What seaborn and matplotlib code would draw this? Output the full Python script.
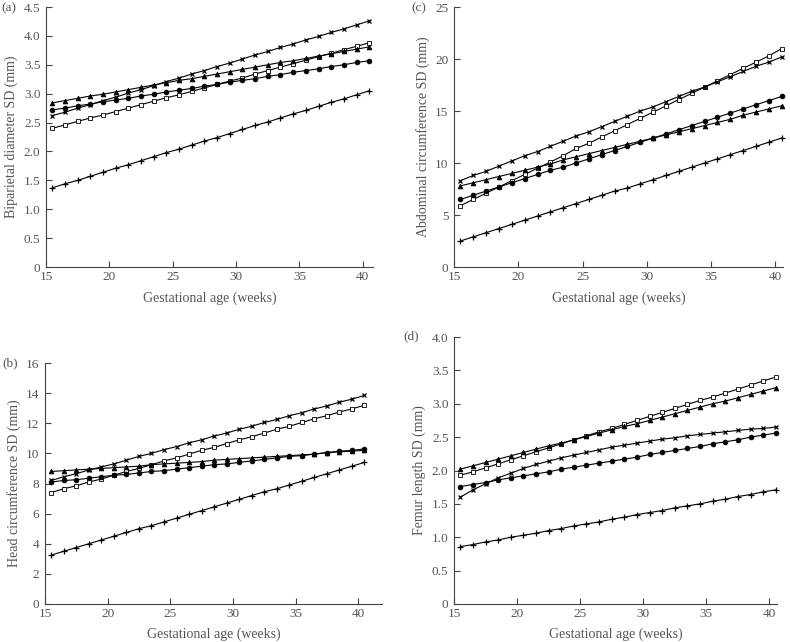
import numpy as np
import pandas as pd
import matplotlib
matplotlib.use("Agg")
import matplotlib.pyplot as plt
import seaborn as sns
from matplotlib.ticker import FuncFormatter

sns.set_style("white")
plt.rcParams['font.family'] = ['Liberation Serif', 'DejaVu Serif']

weeks = [15.5, 16.5, 17.5, 18.5, 19.5, 20.5, 21.5, 22.5, 23.5, 24.5, 25.5, 26.5, 27.5,
         28.5, 29.5, 30.5, 31.5, 32.5, 33.5, 34.5, 35.5, 36.5, 37.5, 38.5, 39.5, 40.5]

# (a) Biparietal diameter SD
bpd_cross = [2.62, 2.68, 2.75, 2.81, 2.88, 2.94, 3.01, 3.07, 3.14, 3.21, 3.27, 3.34, 3.40,
             3.47, 3.53, 3.60, 3.67, 3.73, 3.80, 3.86, 3.93, 3.99, 4.06, 4.12, 4.19, 4.26]
bpd_tri = [2.84, 2.88, 2.92, 2.96, 2.99, 3.03, 3.07, 3.11, 3.15, 3.19, 3.23, 3.26, 3.30,
           3.34, 3.38, 3.42, 3.46, 3.50, 3.54, 3.57, 3.61, 3.65, 3.69, 3.73, 3.77, 3.81]
bpd_dot = [2.72, 2.75, 2.79, 2.82, 2.86, 2.89, 2.92, 2.96, 2.99, 3.03, 3.06, 3.09, 3.13,
           3.16, 3.20, 3.23, 3.26, 3.30, 3.33, 3.37, 3.40, 3.43, 3.47, 3.50, 3.54, 3.57]
bpd_sq = [2.40, 2.46, 2.52, 2.58, 2.63, 2.69, 2.75, 2.81, 2.87, 2.93, 2.98, 3.04, 3.10,
          3.16, 3.22, 3.27, 3.34, 3.40, 3.46, 3.52, 3.58, 3.64, 3.70, 3.76, 3.82, 3.88]
bpd_plus = [1.37, 1.44, 1.50, 1.57, 1.64, 1.71, 1.77, 1.84, 1.91, 1.98, 2.04, 2.11, 2.18,
            2.24, 2.31, 2.38, 2.45, 2.51, 2.58, 2.65, 2.71, 2.78, 2.85, 2.91, 2.98, 3.05]

# (b) Head circumference SD
hc_cross = [8.2, 8.45, 8.65, 8.9, 9.1, 9.3, 9.55, 9.8, 10.0, 10.25, 10.45, 10.7, 10.9,
            11.15, 11.35, 11.6, 11.8, 12.05, 12.25, 12.5, 12.7, 12.95, 13.15, 13.4, 13.6, 13.85]
hc_tri = [8.8, 8.85, 8.9, 8.95, 9.0, 9.05, 9.1, 9.15, 9.25, 9.3, 9.35, 9.4, 9.45,
          9.55, 9.6, 9.65, 9.7, 9.75, 9.8, 9.85, 9.9, 9.95, 10.05, 10.1, 10.15, 10.2]
hc_dot = [8.1, 8.2, 8.25, 8.35, 8.45, 8.55, 8.6, 8.7, 8.8, 8.85, 8.95, 9.05, 9.15,
          9.25, 9.3, 9.4, 9.5, 9.6, 9.7, 9.8, 9.85, 9.95, 10.05, 10.15, 10.2, 10.3]
hc_sq = [7.4, 7.65, 7.85, 8.1, 8.3, 8.55, 8.8, 9.0, 9.25, 9.5, 9.7, 9.95, 10.2,
         10.4, 10.65, 10.9, 11.1, 11.35, 11.6, 11.8, 12.05, 12.3, 12.5, 12.75, 12.95, 13.2]
hc_plus = [3.25, 3.5, 3.75, 4.0, 4.25, 4.5, 4.75, 5.0, 5.2, 5.45, 5.7, 5.95, 6.2,
           6.45, 6.7, 6.95, 7.2, 7.45, 7.65, 7.9, 8.15, 8.4, 8.65, 8.9, 9.15, 9.4]

# (c) Abdominal circumference SD
ac_cross = [8.3, 8.8, 9.2, 9.7, 10.2, 10.7, 11.1, 11.6, 12.1, 12.6, 13.0, 13.5, 14.0,
            14.5, 15.0, 15.4, 15.9, 16.4, 16.9, 17.3, 17.8, 18.3, 18.8, 19.3, 19.7, 20.2]
ac_sq = [5.9, 6.5, 7.1, 7.7, 8.3, 8.9, 9.5, 10.1, 10.7, 11.4, 11.9, 12.5, 13.1,
         13.7, 14.3, 14.9, 15.5, 16.1, 16.7, 17.3, 17.9, 18.5, 19.1, 19.7, 20.3, 21.0]
ac_tri = [7.8, 8.1, 8.4, 8.7, 9.0, 9.3, 9.6, 9.9, 10.3, 10.6, 10.9, 11.2, 11.5,
          11.8, 12.1, 12.4, 12.7, 13.0, 13.3, 13.6, 13.9, 14.2, 14.6, 14.9, 15.2, 15.5]
ac_dot = [6.5, 6.9, 7.3, 7.7, 8.1, 8.5, 8.9, 9.3, 9.6, 10.0, 10.4, 10.8, 11.2,
          11.6, 12.0, 12.4, 12.8, 13.2, 13.6, 14.0, 14.4, 14.8, 15.2, 15.6, 16.0, 16.4]
ac_plus = [2.5, 2.9, 3.3, 3.7, 4.1, 4.5, 4.9, 5.3, 5.7, 6.1, 6.5, 6.9, 7.3,
           7.6, 8.0, 8.4, 8.8, 9.2, 9.6, 10.0, 10.4, 10.8, 11.2, 11.6, 12.0, 12.4]

# (d) Femur length SD
fl_sq = [1.93, 1.98, 2.04, 2.10, 2.16, 2.22, 2.28, 2.34, 2.40, 2.46, 2.52, 2.58, 2.63,
         2.69, 2.75, 2.81, 2.87, 2.93, 2.99, 3.05, 3.10, 3.16, 3.22, 3.28, 3.34, 3.40]
fl_tri = [2.02, 2.07, 2.12, 2.17, 2.22, 2.27, 2.32, 2.37, 2.41, 2.46, 2.51, 2.56, 2.61,
          2.66, 2.70, 2.75, 2.80, 2.85, 2.90, 2.95, 3.00, 3.04, 3.09, 3.14, 3.19, 3.24]
fl_cross = [1.60, 1.71, 1.80, 1.89, 1.96, 2.03, 2.09, 2.14, 2.19, 2.23, 2.27, 2.31, 2.35,
            2.38, 2.41, 2.44, 2.47, 2.49, 2.52, 2.54, 2.56, 2.58, 2.60, 2.62, 2.63, 2.65]
fl_dot = [1.76, 1.79, 1.82, 1.86, 1.89, 1.92, 1.95, 1.98, 2.02, 2.05, 2.08, 2.11, 2.14,
          2.17, 2.20, 2.24, 2.27, 2.30, 2.33, 2.36, 2.40, 2.43, 2.46, 2.50, 2.53, 2.56]
fl_plus = [0.86, 0.89, 0.93, 0.96, 1.00, 1.03, 1.06, 1.10, 1.13, 1.17, 1.20, 1.23, 1.27,
           1.30, 1.34, 1.37, 1.40, 1.44, 1.47, 1.50, 1.54, 1.57, 1.61, 1.64, 1.68, 1.71]

marker_styles = {
    'cross': dict(marker='x', markersize=3.4, mfc='black', mec='black', mew=0.9),
    'tri': dict(marker='^', markersize=3.4, mfc='black', mec='black', mew=0.6),
    'dot': dict(marker='o', markersize=3.4, mfc='black', mec='black', mew=0.6),
    'sq': dict(marker='s', markersize=3.2, mfc='white', mec='black', mew=0.6),
    'plus': dict(marker='+', markersize=4.2, mfc='black', mec='black', mew=0.9),
}

W, H = 790, 642

def rect(left, right, top, bottom):
    return [left / W, 1 - bottom / H, (right - left) / W, (bottom - top) / H]

panels = [
    ('(a)', (1, 8), 'Biparietal diameter SD (mm)', rect(46, 373, 7, 267), (0, 4.5), np.arange(0, 4.51, 0.5), 40.8, True,
     {'cross': bpd_cross, 'tri': bpd_tri, 'dot': bpd_dot, 'sq': bpd_sq, 'plus': bpd_plus}),
    ('(c)', (411, 8), 'Abdominal circumference SD (mm)', rect(454, 783, 7, 267), (0, 25), np.arange(0, 26, 5), 40.6, False,
     {'cross': ac_cross, 'tri': ac_tri, 'dot': ac_dot, 'sq': ac_sq, 'plus': ac_plus}),
    ('(b)', (2, 363), 'Head circumference SD (mm)', rect(45, 382, 363, 604), (0, 16), np.arange(0, 17, 2), 41.9, False,
     {'cross': hc_cross, 'tri': hc_tri, 'dot': hc_dot, 'sq': hc_sq, 'plus': hc_plus}),
    ('(d)', (403, 336), 'Femur length SD (mm)', rect(454, 777, 337, 604), (0, 4.0), np.arange(0, 4.01, 0.5), 40.6, True,
     {'cross': fl_cross, 'tri': fl_tri, 'dot': fl_dot, 'sq': fl_sq, 'plus': fl_plus}),
]

fig = plt.figure(figsize=(7.9, 6.42), dpi=100)
grey = '#555555'

for i, (tag, tagpos, ylabel, r, ylim, yticks, xmax, dec, series) in enumerate(panels):
    ax = fig.add_axes(r)
    for key in ['plus', 'sq', 'dot', 'tri', 'cross']:
        df = pd.DataFrame({'week': weeks, 'sd': series[key]})
        sns.lineplot(data=df, x='week', y='sd', ax=ax, color='black', linewidth=0.8,
                     clip_on=False, **marker_styles[key])
    ax.set_xlim(15, xmax)
    ax.set_ylim(*ylim)
    ax.set_xticks([15, 20, 25, 30, 35, 40])
    ax.set_yticks(yticks)
    if dec:
        ax.yaxis.set_major_formatter(FuncFormatter(lambda v, p: '0' if abs(v) < 1e-9 else f'{v:.1f}'))
    else:
        ax.yaxis.set_major_formatter(FuncFormatter(lambda v, p: f'{v:.0f}'))
    for s in ['top', 'right']:
        ax.spines[s].set_visible(False)
    for s in ['left', 'bottom']:
        ax.spines[s].set_color('#444444')
        ax.spines[s].set_linewidth(0.8)
    ax.tick_params(axis='both', direction='in', length=4, width=0.8, color='#444444',
                   labelsize=9.5, labelcolor=grey, left=True, bottom=True)
    ax.tick_params(axis='y', pad=4)
    ax.tick_params(axis='x', pad=3)
    ax.set_xlabel('Gestational age (weeks)', fontsize=10, color=grey,
                  labelpad=6 if i < 2 else 5)
    ax.set_ylabel(ylabel, fontsize=10, color=grey, labelpad=4)
    fig.text(tagpos[0] / W, 1 - tagpos[1] / H, tag, fontsize=9.5, color=grey,
             ha='left', va='center')

fig.savefig('out.png', dpi=100)
